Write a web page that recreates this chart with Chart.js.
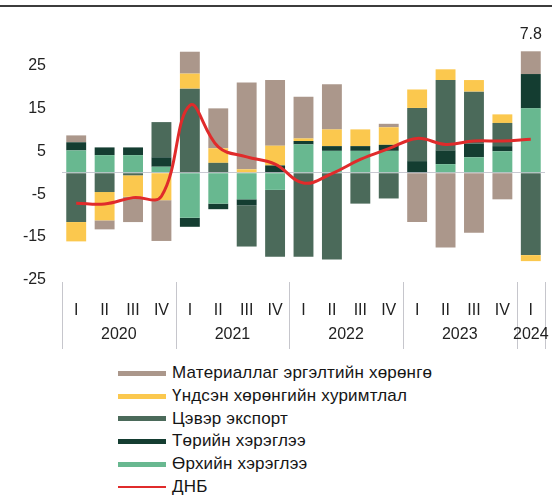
<!DOCTYPE html>
<html><head><meta charset="utf-8">
<script src="https://cdn.jsdelivr.net/npm/chart.js@4.4.1/dist/chart.umd.min.js"></script>
<style>
html,body{margin:0;padding:0;background:#fff;width:552px;height:499px;overflow:hidden;font-family:"Liberation Sans",Arial,sans-serif;}
#topline{position:absolute;left:0;top:5px;width:552px;height:2px;background:#3c3c3c;}
#wrap{position:absolute;left:0;top:0;width:552px;height:360px;}
#legend{position:absolute;left:118px;top:362px;}
.item{display:flex;align-items:center;height:22.7px;font-size:17px;letter-spacing:0.2px;color:#151515;white-space:nowrap;}
.sw{width:48px;height:5px;margin-right:6px;flex:none;}
.ln{width:48px;height:2px;margin-right:6px;flex:none;}
</style>
</head><body>
<div id="wrap"><canvas id="c" width="552" height="360"></canvas></div>
<div id="topline"></div>
<div id="legend"></div>
<script>
const quarters = ['I','II','III','IV','I','II','III','IV','I','II','III','IV','I','II','III','IV','I'];
const years = ['2020','2021','2022','2023','2024'];
const quartersPerYear = [4,4,4,4,1];
const yTicks = [-25,-15,-5,0,5,15,25];

const household   = [5.2, 4.1, 4.1, 1.4, -10.5, -7.2, -6.2, -4.0, 6.6, 5.1, 5.1, 5.1, 0, 2.0, 3.6, 5.0, 15.0];
const government  = [1.9, 1.8, 1.8, 2.2, -2.1, -1.3, -1.4, 1.7, 0.8, 1.1, 1.1, 1.4, 2.7, 3.2, 3.2, 1.2, 8.0];
const netExport   = [-11.5, -4.5, -0.6, 8.2, 19.6, 2.3, -9.6, -15.6, -19.6, -20.2, -7.2, -6.0, 12.4, 16.4, 12.1, 5.4, -19.2];
const fixedCap    = [-4.5, -6.6, -5.0, -6.4, 3.5, 3.4, 0.8, 4.6, 0.6, 3.9, 3.9, 4.1, 4.3, 2.5, 2.7, 2.0, -1.4];
const inventories = [1.6, -2.1, -5.9, -9.5, 5.1, 9.3, 20.2, 15.3, 9.7, 10.5, 0, 0.8, -11.5, -17.4, -14.0, -6.2, 5.3];
const gdp         = [-7.1, -7.3, -5.8, -5.5, 15.7, 6.0, 3.7, 2.0, -2.4, -0.2, 3.1, 5.6, 8.0, 6.6, 7.4, 7.4, 7.8];

const names = {
  inventories:'Материаллаг эргэлтийн хөрөнгө',
  fixedCap:'Үндсэн хөрөнгийн хуримтлал',
  netExport:'Цэвэр экспорт',
  government:'Төрийн хэрэглээ',
  household:'Өрхийн хэрэглээ',
  gdp:'ДНБ'
};
const colors = {
  inventories:'#ab978b',
  fixedCap:'#fbc84e',
  netExport:'#4b6a5a',
  government:'#143d31',
  household:'#68b890',
  gdp:'#e02b2b'
};

Chart.defaults.font.family = '"Liberation Sans", Arial, sans-serif';
Chart.defaults.color = '#222';

const bar = (key, data) => ({
  type:'bar', label:names[key], data, backgroundColor:colors[key],
  borderWidth:0, stack:'s', order:1,
  barPercentage:0.7, categoryPercentage:1
});

const extras = {
  id:'extras',
  afterDraw(chart){
    const {ctx, chartArea, scales:{x, y}} = chart;
    const w = (chartArea.right - chartArea.left) / quarters.length;
    ctx.save();
    ctx.strokeStyle = '#c6c6cc';
    ctx.lineWidth = 1;
    let b = 0;
    const bounds = [0];
    quartersPerYear.forEach(n => { b += n; bounds.push(b); });
    bounds.forEach(k => {
      const px = Math.round(chartArea.left + k*w) + 0.5;
      ctx.beginPath();
      ctx.moveTo(px, chartArea.bottom + 2);
      ctx.lineTo(px, chartArea.bottom + 69);
      ctx.stroke();
    });
    ctx.fillStyle = '#222';
    ctx.font = '16px "Liberation Sans", Arial, sans-serif';
    ctx.textAlign = 'center';
    ctx.textBaseline = 'middle';
    let s = 0;
    years.forEach((yr, i) => {
      const n = quartersPerYear[i];
      const cx = (x.getPixelForValue(s) + x.getPixelForValue(s + n - 1)) / 2;
      ctx.fillText(yr, cx, chartArea.bottom + 55);
      s += n;
    });
    const last = gdp.length - 1;
    let top = 0;
    [household, government, netExport, fixedCap, inventories].forEach(a => { if (a[last] > 0) top += a[last]; });
    ctx.fillText(String(gdp[last]), x.getPixelForValue(last), y.getPixelForValue(top) - 17);
    ctx.restore();
  }
};

new Chart(document.getElementById('c'), {
  data:{
    labels:quarters,
    datasets:[
      bar('household', household),
      bar('government', government),
      bar('netExport', netExport),
      bar('fixedCap', fixedCap),
      bar('inventories', inventories),
      {type:'line', label:names.gdp, data:gdp, borderColor:colors.gdp, borderWidth:3,
       pointRadius:0, tension:0.4, fill:false, order:0, stack:'gdp'}
    ]
  },
  options:{
    responsive:false, animation:false,
    layout:{padding:{left:0, right:7, top:44, bottom:0}},
    plugins:{legend:{display:false}, tooltip:{enabled:false}},
    scales:{
      x:{
        stacked:true,
        grid:{display:false},
        border:{display:false},
        ticks:{font:{size:16}, color:'#222', padding:13, maxRotation:0, autoSkip:false},
        afterFit(s){ s.height = 80; }
      },
      y:{
        stacked:true, min:-25, max:30,
        afterBuildTicks(s){ s.ticks = yTicks.map(v => ({value:v})); },
        ticks:{font:{size:16}, color:'#222', padding:16, callback:v => v === 0 ? '' : v},
        grid:{drawTicks:false, lineWidth:1, color:c => (c.tick && c.tick.value === 0) ? '#c9c9d2' : 'rgba(0,0,0,0)'},
        border:{display:false},
        afterFit(s){ s.width = 62; }
      }
    }
  },
  plugins:[extras]
});

const legendOrder = ['inventories','fixedCap','netExport','government','household','gdp'];
const lg = document.getElementById('legend');
legendOrder.forEach(k => {
  const d = document.createElement('div');
  d.className = 'item';
  const m = document.createElement('span');
  m.className = k === 'gdp' ? 'ln' : 'sw';
  m.style.background = colors[k];
  const t = document.createElement('span');
  t.textContent = names[k];
  d.appendChild(m); d.appendChild(t);
  lg.appendChild(d);
});
</script>
</body></html>
